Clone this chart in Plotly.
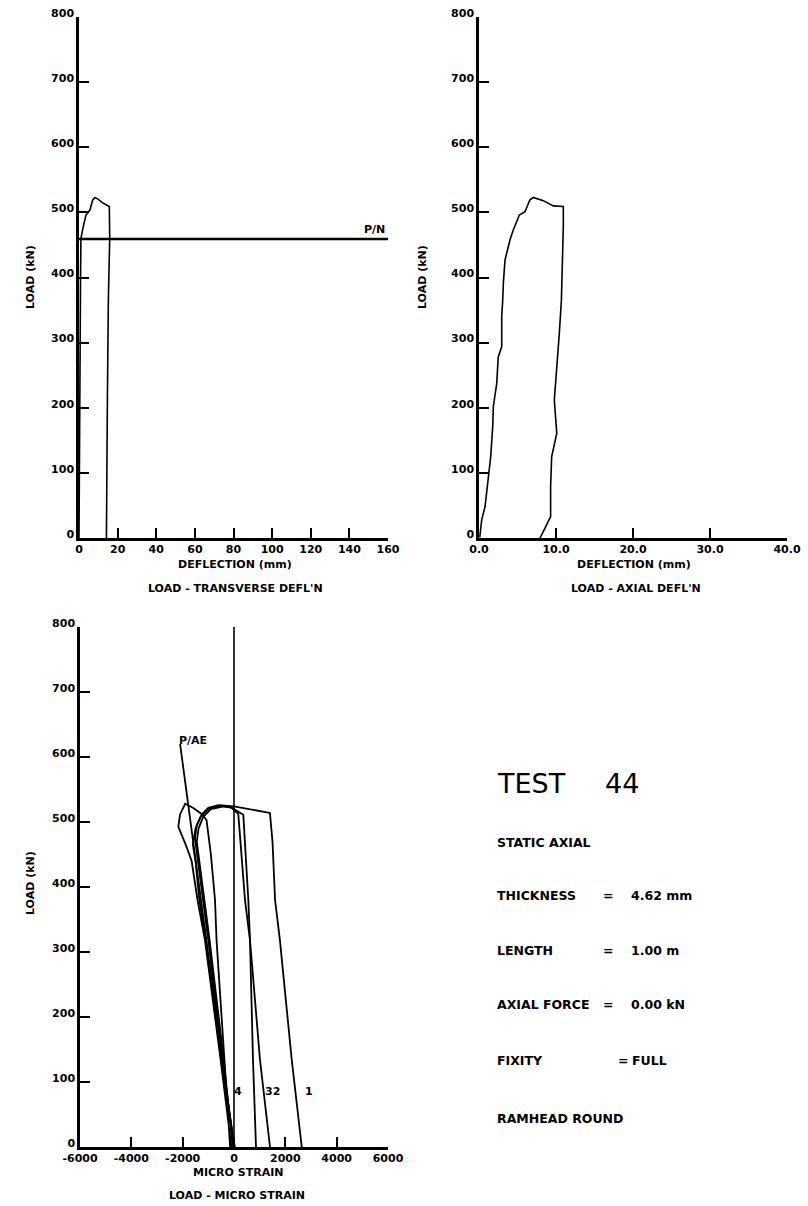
import plotly.graph_objects as go

# ---- Load vs transverse deflection ----
trans_defl = [0, 0.3, 0.5, 0.8, 1.0, 2.2, 3.6, 5.7, 7.1, 8.3, 10.0, 12.6, 14.7, 15.7, 15.9, 15.2, 14.7, 14.3, 14.2]
trans_load = [0, 100, 250, 400, 460, 478, 496, 504, 519, 523, 520, 514, 511, 509, 460, 365, 212, 110, 0]
pn_load = 459          # P/N reference load
trans_ticks = [0, 20, 40, 60, 80, 100, 120, 140, 160]

# ---- Load vs axial deflection ----
axial_defl = [0.1, 0.35, 0.78, 1.08, 1.2, 1.52, 1.78, 1.86, 2.3, 2.5, 2.95, 2.95, 3.08, 3.16, 3.38,
              4.03, 4.45, 5.24, 5.97, 6.6, 7.05, 8.35, 9.65, 10.95, 10.95, 10.7, 10.43, 10.1, 9.78,
              10.1, 9.44, 9.3, 9.3, 8.44, 7.92]
axial_load = [1, 28, 48, 79, 99, 125, 171, 202, 237, 278, 294, 340, 365, 391, 427,
              458, 473, 496, 501, 519, 523, 518, 510, 509, 478, 365, 314, 263, 212,
              161, 125, 79, 33, 12, 0]
axial_ticks = [0, 10, 20, 30, 40]

# ---- Load vs micro strain (gauges 1-4 and P/AE) ----
g1_strain = [0, -450, -1000, -1200, -1400, -1520, -1450, -1250, -1000, -600, 0, 700, 1400, 1500, 1600, 1790, 2250, 2640]
g1_load = [0, 134, 318, 380, 440, 475, 495, 512, 522, 526, 524, 519, 514, 470, 380, 318, 134, 0]

g2_strain = [-50, -400, -950, -1150, -1350, -1450, -1380, -1200, -900, -400, -100, 168, 428, 623, 1013, 1403]
g2_load = [0, 134, 318, 380, 440, 470, 490, 508, 520, 524, 522, 512, 380, 318, 134, 0]

g3_strain = [30, -500, -1100, -1350, -1500, -1600, -1500, -1300, -1000, -500, -100, 200, 363, 558, 623, 740, 857]
g3_load = [0, 134, 318, 380, 440, 465, 490, 508, 520, 525, 522, 515, 511, 380, 318, 134, 0]

g4_strain = [-100, -520, -1130, -1420, -1650, -1850, -2170, -2100, -1900, -1600, -1250, -1070, -900, -740, -680, -390, -150]
g4_load = [0, 134, 318, 380, 440, 462, 493, 512, 528, 522, 512, 503, 450, 380, 318, 134, 0]

pae_strain = [0, -2100]
pae_load = [0, 620]

zero_strain = [0, 0]
zero_load = [0, 800]

strain_ticks = [-6000, -4000, -2000, 0, 2000, 4000, 6000]
load_ticks = [0, 100, 200, 300, 400, 500, 600, 700, 800]

W, H = 808, 1206
FONT = "DejaVu Sans"


def px(x):
    return x / W


def py(y):
    return 1 - y / H


fig = go.Figure()


def add_line(x, y, xa, ya, w=1.6):
    fig.add_trace(go.Scatter(x=x, y=y, mode="lines", xaxis=xa, yaxis=ya,
                             line=dict(color="black", width=w),
                             showlegend=False, hoverinfo="skip"))


add_line(trans_defl, trans_load, "x", "y")
add_line([trans_ticks[0], trans_ticks[-1]], [pn_load, pn_load], "x", "y", w=2.5)

add_line(axial_defl, axial_load, "x2", "y2")

add_line(zero_strain, zero_load, "x3", "y3", w=1.6)
add_line(pae_strain, pae_load, "x3", "y3", w=1.8)
for s, l in [(g1_strain, g1_load), (g2_strain, g2_load), (g3_strain, g3_load), (g4_strain, g4_load)]:
    add_line(s, l, "x3", "y3", w=1.8)

tick_font = dict(family=FONT, size=11, color="black", weight="bold")
axis_base = dict(showline=True, linecolor="black", linewidth=2.5, ticks="inside",
                 ticklen=10, tickwidth=2, tickcolor="black", showgrid=False,
                 zeroline=False, tickfont=tick_font, fixedrange=True, tickangle=0,
                 automargin=False)
x_extra = dict(ticklabelstandoff=-1)
y_extra = dict(ticklabelshift=-4)

y_top = [py(538), py(17)]
y_bot = [py(1147), py(627)]

fig.update_layout(
    width=W, height=H, margin=dict(l=0, r=0, t=0, b=0),
    paper_bgcolor="white", plot_bgcolor="white", showlegend=False,
    xaxis=dict(axis_base, **x_extra, domain=[px(79), px(388)], range=[0, 160], anchor="y",
               tickvals=trans_ticks, ticktext=[str(v) for v in trans_ticks]),
    yaxis=dict(axis_base, **y_extra, domain=y_top, range=[0, 800], anchor="x",
               tickvals=load_ticks),
    xaxis2=dict(axis_base, **x_extra, domain=[px(479), px(787)], range=[0, 40], anchor="y2",
                tickvals=axial_ticks, ticktext=[f"{v:.1f}" for v in axial_ticks]),
    yaxis2=dict(axis_base, **y_extra, domain=y_top, range=[0, 800], anchor="x2",
                tickvals=load_ticks),
    xaxis3=dict(axis_base, **x_extra, domain=[px(80), px(388)], range=[-6000, 6000], anchor="y3",
                tickvals=strain_ticks, ticktext=[str(v) for v in strain_ticks]),
    yaxis3=dict(axis_base, **y_extra, domain=y_bot, range=[0, 800], anchor="x3",
                tickvals=load_ticks),
)

label_font = dict(family=FONT, size=11, color="black", weight="bold")
ann = []


def text_at(x, y, s, anchor="center", size=11, weight="bold", angle=0):
    ann.append(dict(x=px(x), y=py(y), xref="paper", yref="paper", text=s,
                    showarrow=False, xanchor=anchor, yanchor="middle",
                    textangle=angle,
                    font=dict(family=FONT, size=size, color="black", weight=weight)))


# axis titles and plot captions
text_at(30, 277, "LOAD (kN)", angle=-90)
text_at(422, 277, "LOAD (kN)", angle=-90)
text_at(30, 883, "LOAD (kN)", angle=-90)
text_at(235, 564, "DEFLECTION (mm)")
text_at(236, 589, "LOAD - TRANSVERSE DEFL'N")
text_at(634, 564, "DEFLECTION (mm)")
text_at(636, 589, "LOAD - AXIAL DEFL'N")
text_at(238, 1172, "MICRO STRAIN")
text_at(237, 1195, "LOAD - MICRO STRAIN")


# curve labels in data coordinates
def data_label(xa, ya, x, y, s, anchor="center", yanchor="middle"):
    ann.append(dict(x=x, y=y, xref=xa, yref=ya, text=s, showarrow=False,
                    xanchor=anchor, yanchor=yanchor, font=label_font))


data_label("x", "y", 153, pn_load + 14, "P/N")
data_label("x3", "y3", pae_strain[-1] - 120, pae_load[-1] + 5, "P/AE", anchor="left")
data_label("x3", "y3", 175, 85, "4")
data_label("x3", "y3", 1500, 85, "32")
data_label("x3", "y3", 2940, 85, "1")

# test description block
text_at(495, 783, "TEST", anchor="left", size=27, weight="normal")
text_at(603, 783, "44", anchor="left", size=27, weight="normal")
rows = [
    (842, "STATIC AXIAL", None, None),
    (895, "THICKNESS", "=", "4.62 mm"),
    (950, "LENGTH", "=", "1.00 m"),
    (1004, "AXIAL FORCE", "=", "0.00 kN"),
    (1060, "FIXITY", "=", "FULL"),
    (1118, "RAMHEAD ROUND", None, None),
]
for y, name, eq, val in rows:
    text_at(495, y, name, anchor="left", size=12.5)
    if eq:
        if val == "FULL":
            text_at(616, y, eq, anchor="left", size=12.5)
            text_at(630, y, val, anchor="left", size=12.5)
        else:
            text_at(601, y, eq, anchor="left", size=12.5)
            text_at(629, y, val, anchor="left", size=12.5)

fig.update_layout(annotations=ann)

fig.write_html("out.html")
